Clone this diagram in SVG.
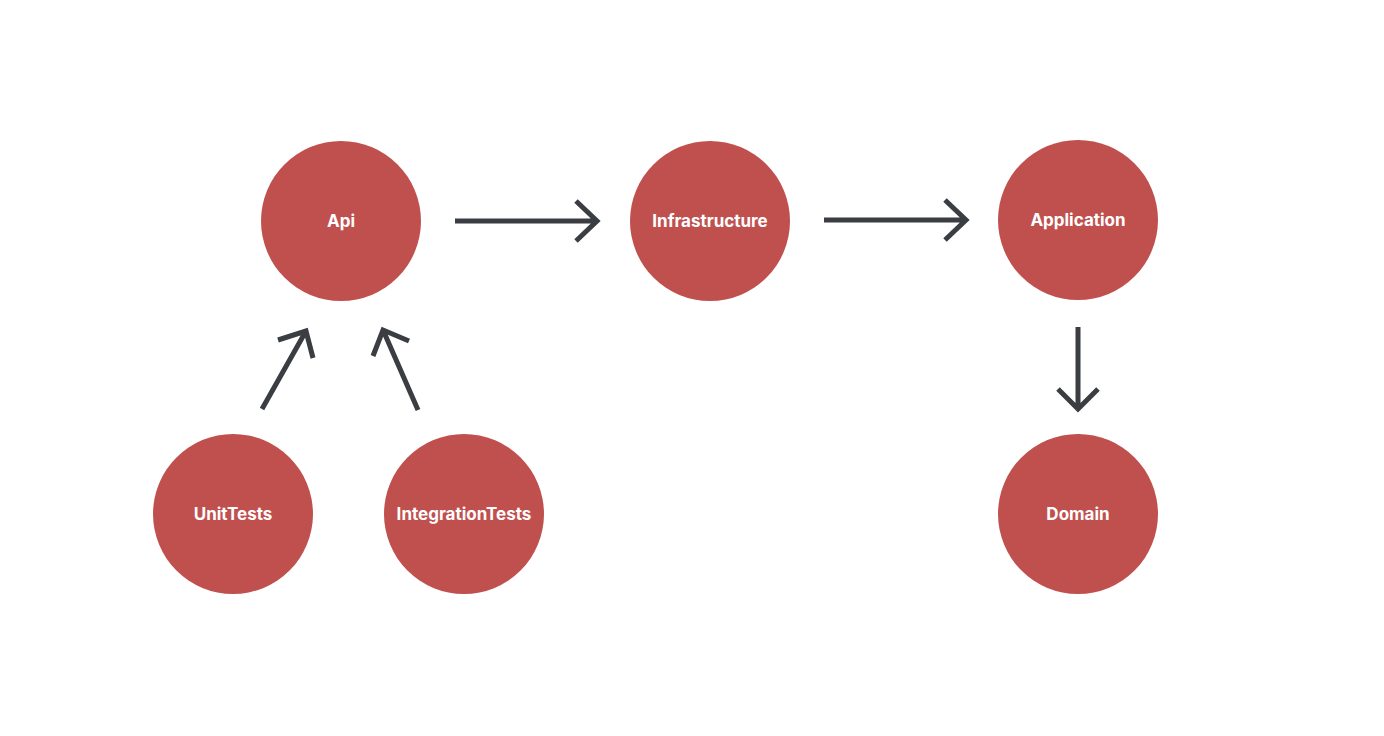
<svg xmlns="http://www.w3.org/2000/svg" width="1384" height="736" viewBox="0 0 1384 736">
<style>
.n{fill:#c0504e}
.t{fill:#fff;font-family:Inter,"Liberation Sans",sans-serif;font-weight:700;font-size:17px;text-anchor:middle;dominant-baseline:central}
.c{fill:none;stroke:#3a3d42;stroke-width:5;stroke-linecap:butt;stroke-linejoin:miter}
</style>
<rect width="1384" height="736" fill="#fff"/>
<g id="connectors">
<path class="c" d="M455 221H597M576 201L597 221L576 241"/>
<path class="c" d="M824 220H966M945 200L966 220L945 240"/>
<path class="c" d="M1078 327V409M1058 389L1078 409L1098 389"/>
<path class="c" d="M262 409L306 331M278 340L306 331L313 358"/>
<path class="c" d="M418 410L383 330M373 356L383 330L409 341"/>
</g>
<g id="api"><circle class="n" cx="341" cy="221" r="80"/><text class="t" x="341" y="221">Api</text></g>
<g id="infrastructure"><circle class="n" cx="710" cy="221" r="80"/><text class="t" x="710" y="221">Infrastructure</text></g>
<g id="application"><circle class="n" cx="1078" cy="220" r="80"/><text class="t" x="1078" y="220">Application</text></g>
<g id="unittests"><circle class="n" cx="233" cy="514" r="80"/><text class="t" x="233" y="514">UnitTests</text></g>
<g id="integrationtests"><circle class="n" cx="464" cy="514" r="80"/><text class="t" x="464" y="514">IntegrationTests</text></g>
<g id="domain"><circle class="n" cx="1078" cy="514" r="80"/><text class="t" x="1078" y="514">Domain</text></g>
</svg>
